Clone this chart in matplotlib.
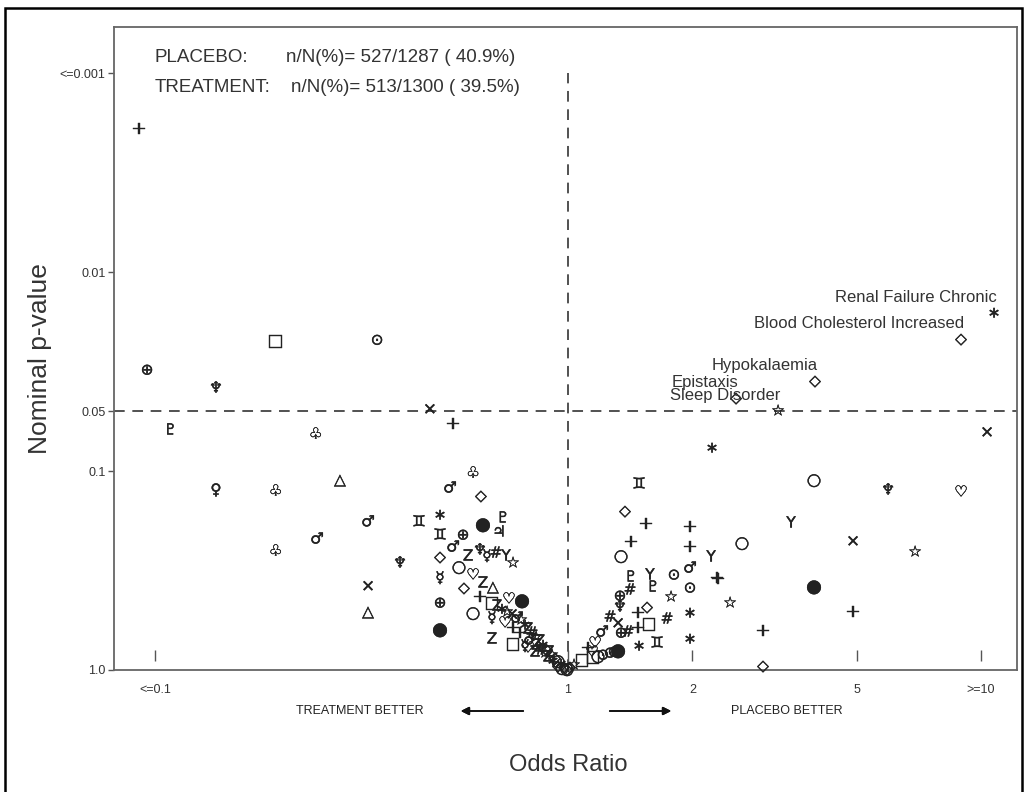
import matplotlib
matplotlib.use('Agg')
import matplotlib.pyplot as plt
import matplotlib.patheffects as pe
from matplotlib.patches import Rectangle
from matplotlib.ticker import NullLocator

# adverse events: odds ratio (treatment vs placebo) and nominal p-value
odds_ratio = [
    0.0915, 0.0957, 0.196, 0.345, 0.1405, 0.463, 0.527, 0.109, 0.245, 0.2805,
    0.1405, 0.196, 0.328, 0.4357, 0.2468, 0.196, 0.392, 0.328, 0.328,
    0.589, 0.518, 0.6155, 0.490, 0.6225, 0.696, 0.490, 0.557, 0.681, 0.527,
    0.573, 0.612, 0.6365, 0.669, 0.708, 0.736, 0.490, 0.5446, 0.589, 0.490,
    0.6225, 0.658, 0.560, 0.612, 0.6546, 0.7196, 0.774, 0.490, 0.589, 0.6546,
    0.704, 0.490, 0.6546, 0.736, 0.787, 0.736,
    0.673, 0.692, 0.712, 0.732, 0.752, 0.770, 0.787, 0.800, 0.818, 0.837,
    0.855, 0.870, 0.885, 0.900, 0.915, 0.930, 0.946, 0.962, 0.978, 0.9945,
    0.809, 0.837, 0.860, 0.8946, 0.920, 0.880, 0.765, 0.800, 0.832, 0.946,
    0.967, 0.995,
    1.486, 1.374, 1.545, 1.974, 1.420, 1.974, 1.344, 2.220, 1.974, 1.805,
    1.420, 1.579, 2.295, 1.974, 1.606, 1.413, 1.776, 1.336, 1.336, 1.554,
    1.477, 1.974, 1.264, 1.737, 1.322, 1.571, 1.477, 1.397, 1.344, 1.209,
    1.974, 1.643, 1.486, 1.163, 1.322, 1.081, 1.150, 1.215, 1.264, 1.118,
    1.143, 1.011, 1.034, 1.182, 1.292,
    10.34, 2.232, 3.941, 5.956, 8.944, 3.467, 2.638, 4.898, 6.922, 2.308,
    3.941, 2.468, 4.898, 2.966, 2.966,
]
p_value = [
    0.00191, 0.0311, 0.0222, 0.0220, 0.0383, 0.0488, 0.0580, 0.0622, 0.0652, 0.111,
    0.1246, 0.126, 0.180, 0.180, 0.2196, 0.2523, 0.290, 0.378, 0.511,
    0.1023, 0.1217, 0.1335, 0.1664, 0.1867, 0.1722, 0.2098, 0.2098, 0.2025, 0.241,
    0.2674, 0.2494, 0.2674, 0.2583, 0.2674, 0.290, 0.2705, 0.3037, 0.333, 0.345,
    0.3654, 0.383, 0.387, 0.4297, 0.4606, 0.4396, 0.450, 0.4606, 0.517, 0.548,
    0.5804, 0.6295, 0.6985, 0.740, 0.7576, 0.615,
    0.477, 0.494, 0.511, 0.523, 0.548, 0.561, 0.594, 0.622, 0.652, 0.683,
    0.715, 0.749, 0.784, 0.812, 0.841, 0.870, 0.901, 0.933, 0.966, 0.989,
    0.7067, 0.749, 0.793, 0.860, 0.901, 0.8213, 0.652, 0.775, 0.812, 0.955,
    0.977, 0.995,
    0.1162, 0.159, 0.1846, 0.191, 0.2274, 0.241, 0.2674, 0.2705, 0.3073, 0.333,
    0.341, 0.333, 0.345, 0.387, 0.383, 0.396, 0.4297, 0.4247, 0.4826, 0.4826,
    0.517, 0.517, 0.5416, 0.554, 0.5804, 0.587, 0.615, 0.644, 0.652, 0.644,
    0.6985, 0.732, 0.7576, 0.732, 0.8026, 0.891, 0.860, 0.841, 0.8213, 0.775,
    0.812, 0.966, 0.944, 0.851, 0.812,
    0.0637, 0.0766, 0.111, 0.1246, 0.1275, 0.1825, 0.230, 0.2248, 0.2553, 0.349,
    0.383, 0.4606, 0.511, 0.637, 0.955,
]
symbol = [
    '+', '⊕', '□', '⊙', '♆', '×', '+', '♇', '♧', '△',
    '♀', '♧', '♂', '♊', '♂', '♧', '♆', '×', '△',
    '♧', '♂', '◇', '∗', '●', '♇', '♊', '⊕', '♃', '♂',
    'Z', '♆', '☿', '#', 'Y', '☆', '◇', '○', '♡', '☿',
    'Z', '△', '◇', '+', '□', '♡', '●', '⊕', '○', '☿',
    '♡', '●', 'Z', '□', '☿', '+',
    'Z', '∗', '☆', '×', '♂', '☆', '∗', 'Z', '#', '☆',
    'Z', '∗', '◇', 'Z', '☆', '◇', '○', '∗', '◇', '○',
    '♂', 'Z', '#', 'Z', '∗', '☆', '+', '♡', 'Z', '◇',
    '○', '◇',
    '♊', '◇', '+', '+', '+', '+', '○', 'Y', '♂', '⊙',
    '♇', 'Y', '+', '⊙', '♇', '#', '☆', '⊕', '♆', '◇',
    '+', '∗', '#', '#', '×', '□', '+', '#', '⊕', '♂',
    '∗', '♊', '∗', '♡', '●', '□', '□', '⊙', '⊙', '+',
    '♡', '◇', '☆', '○', '⊙',
    '×', '∗', '○', '♆', '♡', 'Y', '○', '×', '☆', '+',
    '●', '☆', '+', '+', '◇',
]

# labelled events
event_names = ['Renal Failure Chronic', 'Blood Cholesterol Increased',
               'Hypokalaemia', 'Epistaxis', 'Sleep Disorder']
event_or = [10.75, 8.944, 3.963, 2.552, 3.225]
event_p = [0.01607, 0.02172, 0.0353, 0.0430, 0.0499]
event_sym = ['∗', '◇', '◇', '◇', '☆']

xtick_vals = [0.1, 1, 2, 5, 10]
xtick_labels = ['<=0.1', '1', '2', '5', '>=10']
ytick_vals = [0.001, 0.01, 0.05, 0.1, 1.0]
ytick_labels = ['<=0.001', '0.01', '0.05', '0.1', '1.0']

W, H = 1027, 792
plt.rcParams['font.family'] = ['Liberation Sans', 'DejaVu Sans']

def fx(px):
    return px / W

def fy(py):
    return 1 - py / H

fig = plt.figure(figsize=(W / 100, H / 100), dpi=100)
ax = fig.add_axes([fx(114), fy(670), (1017 - 114) / W, (670 - 27) / H])
ax.set_xscale('log')
ax.set_yscale('log')
ax.set_xlim(0.0796, 12.22)
ax.set_ylim(1.0, 5.87e-4)

big = {'●': 13, '○': 12, '□': 12, '◇': 11, '+': 13, '×': 12}
thick = [pe.withStroke(linewidth=0.3, foreground='#222222')]
for x, y, s in zip(odds_ratio + event_or, p_value + event_p, symbol + event_sym):
    ax.text(x, y, s, ha='center', va='center', fontsize=big.get(s, 11),
            family='DejaVu Sans', color='#222222', path_effects=thick)

for name, x, y in zip(event_names, event_or, event_p):
    ax.annotate(name, (x, y), xytext=(2, 11), textcoords='offset points',
                ha='right', va='center', fontsize=12, color='#333333')

# reference lines
ax.axhline(0.05, color='#222222', lw=1.1, ls=(0, (7, 5)))
ax.vlines(1, 1.0, 0.001, color='#222222', lw=1.1, ls=(0, (7, 5)))

# inner tick marks above the axis
ax.vlines(xtick_vals, 0.90, 0.79, color='#555555', lw=1.0)

ax.set_xticks(xtick_vals)
ax.set_xticklabels(xtick_labels)
ax.set_yticks(ytick_vals)
ax.set_yticklabels(ytick_labels)
ax.xaxis.set_minor_locator(NullLocator())
ax.yaxis.set_minor_locator(NullLocator())
ax.tick_params(axis='x', length=0, pad=10, labelsize=9, labelcolor='#333333')
ax.tick_params(axis='y', length=4, width=1, color='#555555', pad=2,
               labelsize=9, labelcolor='#333333')
for sp in ax.spines.values():
    sp.set_color('#666666')
    sp.set_linewidth(1.3)

# header text
fig.text(fx(155), fy(57), 'PLACEBO:', fontsize=13.5, color='#333333', va='center')
fig.text(fx(286), fy(57), 'n/N(%)= 527/1287 ( 40.9%)', fontsize=13.5,
         color='#333333', va='center')
fig.text(fx(155), fy(88), 'TREATMENT:', fontsize=13.5, color='#333333', va='center')
fig.text(fx(291), fy(88), 'n/N(%)= 513/1300 ( 39.5%)', fontsize=13.5,
         color='#333333', va='center')

# direction hints
fig.text(fx(360), fy(711), 'TREATMENT BETTER', fontsize=9, ha='center',
         va='center', color='#222222')
fig.text(fx(787), fy(711), 'PLACEBO BETTER', fontsize=9, ha='center',
         va='center', color='#222222')
arrow = dict(arrowstyle='-|>', color='#111111', lw=1.2, mutation_scale=12)
fig.add_artist(plt.annotate('', xy=(fx(458), fy(711)), xytext=(fx(526), fy(711)),
                            xycoords='figure fraction', arrowprops=arrow))
fig.add_artist(plt.annotate('', xy=(fx(674), fy(711)), xytext=(fx(607), fy(711)),
                            xycoords='figure fraction', arrowprops=arrow))

fig.text(fx(40), fy(359), 'Nominal p-value', rotation=90, fontsize=19,
         ha='center', va='center', color='#333333')
fig.text(fx(568), fy(765), 'Odds Ratio', fontsize=17, ha='center',
         va='center', color='#333333')

fig.patches.append(Rectangle((fx(5), -0.02), fx(1022) - fx(5), fy(8) + 0.02,
                             transform=fig.transFigure, fill=False,
                             lw=1.8, ec='black'))

fig.savefig('out.png', dpi=100)
